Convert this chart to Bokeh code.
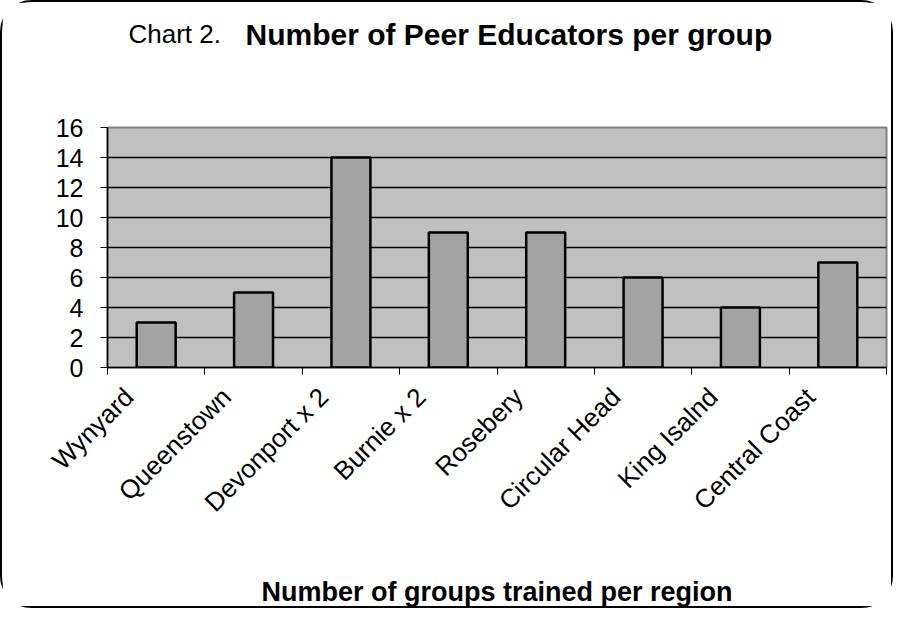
import numpy as np
from bokeh.plotting import figure
from bokeh.models import ColumnDataSource, Range1d, FixedTicker, Title
from bokeh.embed import file_html
from bokeh.resources import INLINE

regions = ["Wynyard", "Queenstown", "Devonport x 2", "Burnie x 2", "Rosebery",
           "Circular Head", "King Isalnd", "Central Coast"]
educators = [3, 5, 14, 9, 9, 6, 4, 7]
y_ticks = [0, 2, 4, 6, 8, 10, 12, 14, 16]

FONT = "Liberation Sans"
n = len(regions)
centers = [i + 0.5 for i in range(n)]
label_pos = [i + 0.22 for i in range(n)]
src = ColumnDataSource(dict(x=centers, top=educators, name=regions))

p = figure(width=893, height=608, output_backend="svg", toolbar_location=None,
           x_range=Range1d(0, n), y_range=Range1d(0, 16),
           min_border_left=105, min_border_right=9, min_border_top=125,
           min_border_bottom=239)
p.styles = {"border": "2px solid black", "border-radius": "32px"}

p.background_fill_color = "#C0C0C0"
p.border_fill_color = "white"
p.outline_line_color = "#808080"
p.outline_line_width = 2

p.vbar(x="x", top="top", width=0.4, bottom=0, source=src,
       fill_color="#A3A3A3", line_color="black", line_width=2.5)

# grids
p.xgrid.grid_line_color = None
p.ygrid.ticker = FixedTicker(ticks=y_ticks)
p.ygrid.grid_line_color = "black"
p.ygrid.grid_line_width = 1.5

# y axis
yax = p.yaxis[0]
yax.ticker = FixedTicker(ticks=y_ticks)
yax.axis_line_color = "black"
yax.axis_line_width = 1.5
yax.major_tick_in = 0
yax.major_tick_out = 7
yax.minor_tick_line_color = None
yax.major_label_standoff = 17
yax.major_label_text_font = FONT
yax.major_label_text_font_size = "25px"
yax.major_label_text_color = "black"

# x axis
xax = p.xaxis[0]
xax.ticker = FixedTicker(ticks=label_pos, minor_ticks=list(range(n + 1)))
xax.major_label_overrides = {c: r for c, r in zip(label_pos, regions)}
xax.major_label_orientation = np.pi / 4
xax.major_tick_in = 0
xax.major_tick_out = 0
xax.minor_tick_in = 0
xax.minor_tick_out = 7
xax.minor_tick_line_color = "black"
xax.axis_line_color = "black"
xax.axis_line_width = 1.5
xax.major_label_standoff = 18
xax.major_label_text_font = FONT
xax.major_label_text_font_size = "26px"
xax.major_label_text_color = "black"
xax.axis_label = "Number of groups trained per region"
xax.axis_label_text_font = FONT
xax.axis_label_text_font_style = "bold"
xax.axis_label_text_font_size = "27px"
xax.axis_label_text_color = "black"
xax.axis_label_standoff = 46

# empty spacer between frame and the title line
spacer = Title(text=" ", align="left", text_font=FONT, text_font_size="10px",
               standoff=86)
# title (two parts on one line)
t_main = Title(text="Number of Peer Educators per group", align="left", offset=138,
               text_font=FONT, text_font_size="30px", text_font_style="bold",
               text_color="black", standoff=-44)
t_pre = Title(text="Chart 2.", align="left", offset=21,
              text_font=FONT, text_font_size="26px", text_font_style="normal",
              text_color="black", standoff=-41)
p.add_layout(spacer, "above")
p.add_layout(t_main, "above")
p.add_layout(t_pre, "above")

open("out.html", "w").write(file_html(p, INLINE))
